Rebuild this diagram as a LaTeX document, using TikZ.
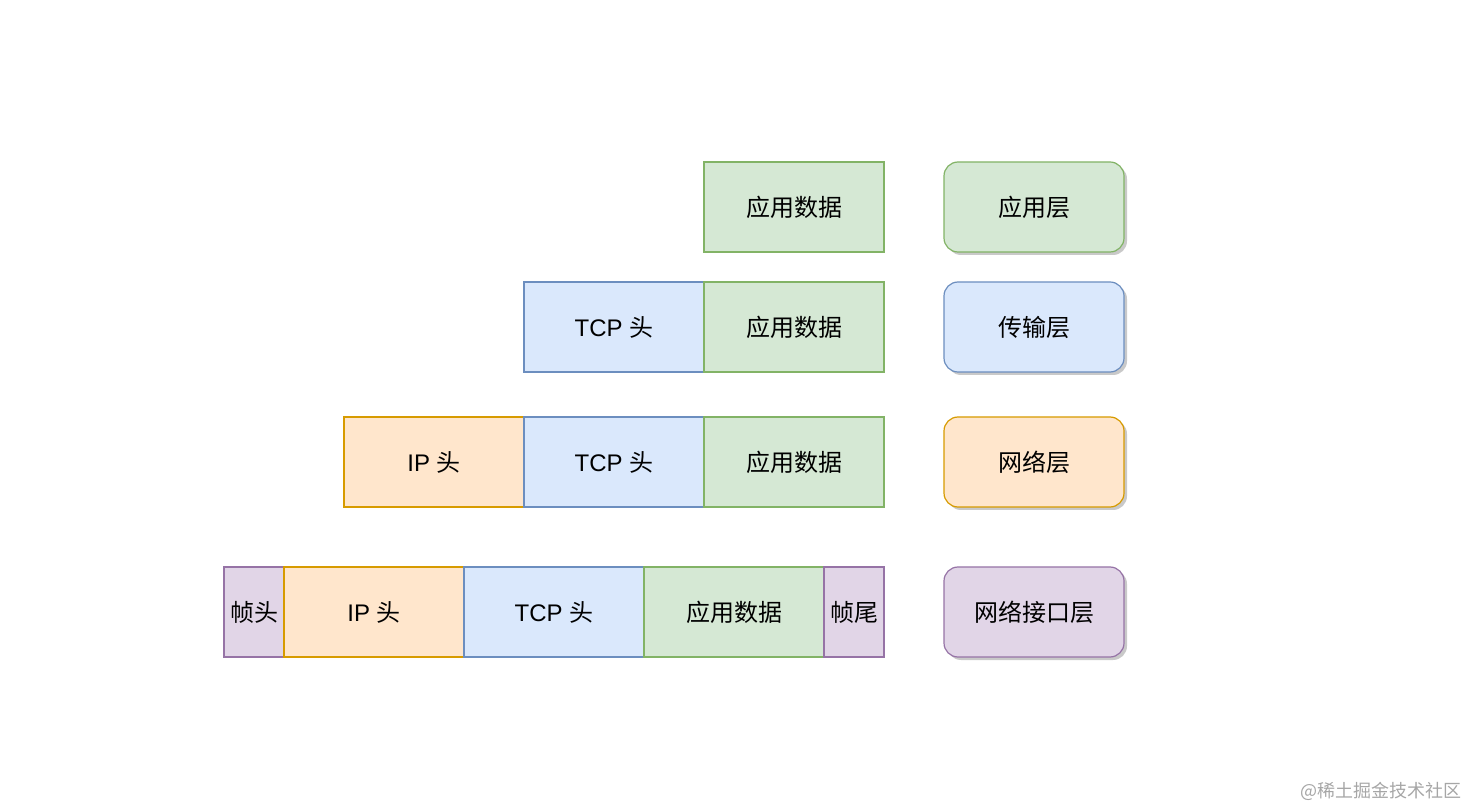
\documentclass[tikz,border=0pt]{standalone}
\usepackage{fontspec}
\setmainfont{Liberation Sans}
\newfontfamily\cjk{Noto Sans CJK SC}
\usetikzlibrary{positioning,shadows}

\definecolor{dataFill}{HTML}{D5E8D4}
\definecolor{dataLine}{HTML}{82B366}
\definecolor{tcpFill}{HTML}{DAE8FC}
\definecolor{tcpLine}{HTML}{6C8EBF}
\definecolor{ipFill}{HTML}{FFE6CC}
\definecolor{ipLine}{HTML}{D79B00}
\definecolor{frameFill}{HTML}{E1D5E7}
\definecolor{frameLine}{HTML}{9673A6}

\begin{document}
\begin{tikzpicture}[
  x=0.5pt, y=-0.5pt,
  field/.style={rectangle, draw, inner sep=0pt, outer sep=0pt, minimum width=90pt, minimum height=45pt, font=\fontsize{12}{14}\selectfont, line width=0.6pt},
  appdata/.style={field, fill=dataFill, draw=dataLine},
  tcphead/.style={field, fill=tcpFill, draw=tcpLine},
  iphead/.style={field, fill=ipFill, draw=ipLine},
  frameend/.style={field, fill=frameFill, draw=frameLine, minimum width=30pt},
  layer/.style={field, rounded corners=7pt, drop shadow={shadow xshift=1.5pt, shadow yshift=-1.5pt, opacity=0.3, fill=black!70}}
]
\useasboundingbox (0,0) rectangle (1468,807);
\def\xData{704}
\def\xTcp{524}
\def\xIp{344}
\def\xFrame{224}
\def\xLayer{944}
\def\yApp{162}
\def\yTrans{282}
\def\yNet{417}
\def\yLink{567}
% application layer
\node[appdata, anchor=north west] (app_data) at (\xData, \yApp) {\cjk 应用数据};
% transport layer
\node[tcphead, anchor=north west] (trans_tcp) at (\xTcp, \yTrans) {TCP {\cjk 头}};
\node[appdata, right=0pt of trans_tcp] (trans_data) {\cjk 应用数据};
% network layer
\node[iphead, anchor=north west] (net_ip) at (\xIp, \yNet) {IP {\cjk 头}};
\node[tcphead, right=0pt of net_ip] (net_tcp) {TCP {\cjk 头}};
\node[appdata, right=0pt of net_tcp] (net_data) {\cjk 应用数据};
% link layer
\node[frameend, anchor=north west] (link_head) at (\xFrame, \yLink) {\cjk 帧头};
\node[iphead, right=0pt of link_head] (link_ip) {IP {\cjk 头}};
\node[tcphead, right=0pt of link_ip] (link_tcp) {TCP {\cjk 头}};
\node[appdata, right=0pt of link_tcp] (link_data) {\cjk 应用数据};
\node[frameend, right=0pt of link_data] (link_tail) {\cjk 帧尾};
% layer names
\node[layer, fill=dataFill, draw=dataLine, anchor=north west] (app_layer) at (\xLayer, \yApp) {\cjk 应用层};
\node[layer, fill=tcpFill, draw=tcpLine, anchor=north west] (trans_layer) at (\xLayer, \yTrans) {\cjk 传输层};
\node[layer, fill=ipFill, draw=ipLine, anchor=north west] (net_layer) at (\xLayer, \yNet) {\cjk 网络层};
\node[layer, fill=frameFill, draw=frameLine, anchor=north west] (link_layer) at (\xLayer, \yLink) {\cjk 网络接口层};
% watermark
\node[anchor=east, text=black!35, font=\cjk\fontsize{9}{11}\selectfont, inner sep=0pt] (mark) at (1462, 791) {@稀土掘金技术社区};
\end{tikzpicture}
\end{document}
